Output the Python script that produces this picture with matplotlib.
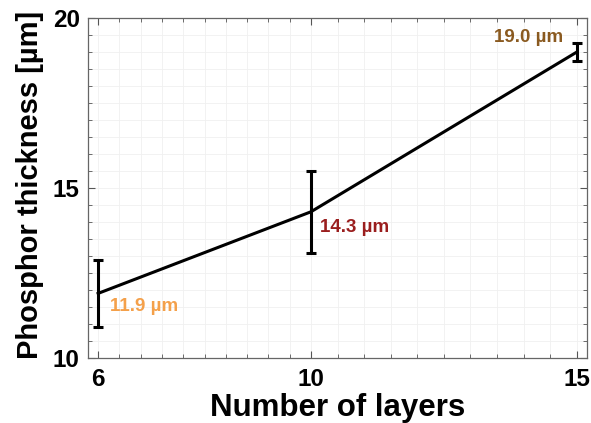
import numpy as np
import matplotlib
matplotlib.use("Agg")
import matplotlib.pyplot as plt

layers = [6, 10, 15]
thickness = [11.9, 14.3, 19.0]
errors = [0.98, 1.2, 0.26]
labels = ["11.9 µm", "14.3 µm", "19.0 µm"]
label_colors = ["#F4A04A", "#9A1E1E", "#8A5A20"]

plt.rcParams['font.family'] = ['Liberation Sans', 'DejaVu Sans']

fig = plt.figure(figsize=(5.91, 4.23), dpi=100)
ax = fig.add_axes([88/591, 1-358/423, (587-88)/591, (358-18)/423])

ax.errorbar(layers, thickness, yerr=errors, color='black', lw=2.2,
            capsize=3.8, capthick=2.2, elinewidth=2.2)

ax.set_xlim(5.81, 15.19)
ax.set_ylim(10, 20)
ax.set_xticks(layers)
ax.set_yticks([10, 15, 20])
minor_x = list(np.arange(6, 10, 0.4)) + list(np.arange(10, 15.01, 0.5))
ax.set_xticks(minor_x, minor=True)
ax.set_yticks(np.arange(10, 20.01, 0.5), minor=True)
ax.grid(True, which='both', color='#F0F0F0', lw=0.6)
ax.set_axisbelow(True)
ax.tick_params(which='both', direction='in', top=True, right=True, color='#555555')
ax.tick_params(which='major', length=5, width=0.8, labelsize=17.5)
ax.tick_params(axis='x', which='major', pad=7)
ax.tick_params(axis='y', which='major', pad=6)
ax.tick_params(which='minor', length=3, width=0.6)
for lab in ax.get_xticklabels() + ax.get_yticklabels():
    lab.set_fontweight('bold')
for s in ax.spines.values():
    s.set_color('#666666')
    s.set_linewidth(0.9)

ax.set_xlabel("Number of layers", fontsize=22.5, fontweight='bold')
ax.set_ylabel("Phosphor thickness [µm]", fontsize=21, fontweight='bold')
ax.xaxis.set_label_coords(0.5, -0.103)
ax.yaxis.set_label_coords(-0.088, 0.51)

offsets = [(0.23, -0.38, 'left'), (0.18, -0.45, 'left'), (-0.25, 0.43, 'right')]
for x, y, t, c, (dx, dy, ha) in zip(layers, thickness, labels, label_colors, offsets):
    ax.text(x + dx, y + dy, t, color=c, fontsize=13.5, fontweight='bold', ha=ha, va='center')

fig.savefig("out.png", dpi=100)
